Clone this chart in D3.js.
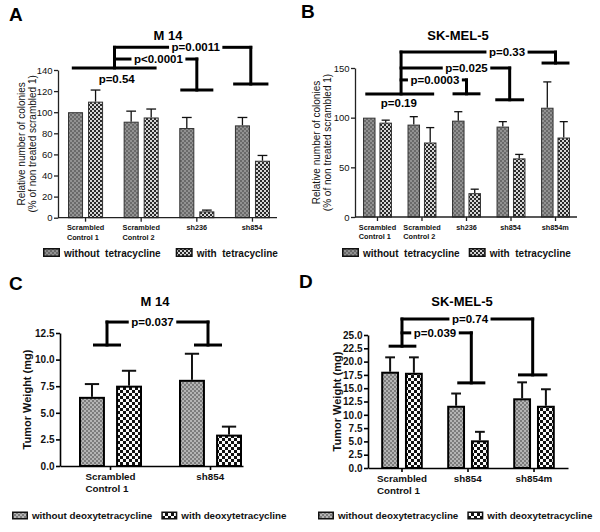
<!DOCTYPE html>
<html><head><meta charset="utf-8">
<script src="https://cdn.jsdelivr.net/npm/d3@7"></script>
<style>
body{margin:0;background:#fff}
svg{display:block}
text{font-family:"Liberation Sans",Arial,Helvetica,sans-serif}
</style>
</head><body>
<script>
// ---------------- DATA ----------------
const catsA = ["Scrambled\nControl 1","Scrambled\nControl 2","sh236","sh854"];
const withoutA = [100, 91, 85, 87.5];
const withoutErrA = [0, 10, 10, 7.5];
const withA = [110, 95, 6, 54];
const withErrA = [11, 8, 1.2, 5];
const ticksA = [0,20,40,60,80,100,120,140];

const catsB = ["Scrambled\nControl 1","Scrambled\nControl 2","sh236","sh854","sh854m"];
const withoutB = [100, 93, 97, 91, 110];
const withoutErrB = [0, 8, 9, 5, 26];
const withB = [95, 75, 24, 59, 80];
const withErrB = [2.5, 15, 4, 4, 16];
const ticksB = [0,50,100,150];

const catsC = ["Scrambled\nControl 1","sh854"];
const withoutC = [6.5, 8.1];
const withoutErrC = [1.2, 2.45];
const withC = [7.55, 2.95];
const withErrC = [1.4, 0.75];
const ticksC = [0,2.5,5,7.5,10,12.5];

const catsD = ["Scrambled\nControl 1","sh854","sh854m"];
const withoutD = [18.1, 11.7, 13.1];
const withoutErrD = [2.7, 2.3, 3.0];
const withD = [17.9, 5.2, 11.7];
const withErrD = [2.9, 1.6, 3.1];
const ticksD = [0,2.5,5,7.5,10,12.5,15,17.5,20,22.5,25];

const legendAB = ["without  tetracycline","with  tetracycline"];
const legendCD = ["without deoxytetracycline","with deoxytetracycline"];

// significance annotations (x in category-index units, y in data units)
const sigBaseA = {x1:-0.22, x2:1.25, y:142, stem:0.52, label:"p=0.54", lx:0.56, ly:127.5};
const sigRowsA = [
  {p:"p<0.0001", y:150.4, xEnd:2.0, yEnd:121, cap:0.27, tx:1.31},
  {p:"p=0.0011", y:161.5, xEnd:2.97, yEnd:126.7, cap:0.29, tx:1.98}
];
const sigBaseB = {x1:-0.24, x2:1.24, y:123.9, stem:0.53, label:"p=0.19", lx:0.48, ly:110.8};
const sigRowsB = [
  {p:"p=0.0003", y:138, xEnd:2.0, yEnd:124, cap:0.28, tx:1.29},
  {p:"p=0.025", y:150, xEnd:2.97, yEnd:118, cap:0.29, tx:2.0},
  {p:"p=0.33", y:166, xEnd:4.0, yEnd:155, cap:0.28, tx:2.91}
];
const sigBaseC = {x1:-0.16, x2:0.09, y:11.37, stem:-0.035};
const sigRowsC = [
  {p:"p=0.037", y:13.53, xEnd:0.975, yEnd:11.37, cap:0.125, tx:0.42}
];
const sigBaseD = {x1:-0.18, x2:0.195, y:22.9, stem:0.0};
const sigRowsD = [
  {p:"p=0.039", y:25.4, xEnd:1.05, yEnd:16.0, cap:0.19, tx:0.5},
  {p:"p=0.74", y:28.0, xEnd:1.98, yEnd:17.5, cap:0.2, tx:1.03}
];

// ---------------- SETUP ----------------
const svg = d3.select("body").append("svg").attr("width",600).attr("height",532);
svg.append("rect").attr("width",600).attr("height",532).attr("fill","#fff");
const defs = svg.append("defs");
function checker(id, cell, c1, c2){
  const p = defs.append("pattern").attr("id",id).attr("patternUnits","userSpaceOnUse")
    .attr("width",cell*2).attr("height",cell*2);
  p.append("rect").attr("width",cell*2).attr("height",cell*2).attr("fill",c2);
  p.append("rect").attr("width",cell).attr("height",cell).attr("fill",c1);
  p.append("rect").attr("x",cell).attr("y",cell).attr("width",cell).attr("height",cell).attr("fill",c1);
}
checker("woA",2,"#6a6a6a","#929292");
checker("wA",2,"#2a2a2a","#d6d6d6");
checker("woC",2,"#7c7c7c","#b4b4b4");
checker("wC",3,"#111","#fafafa");

const FONT = '"Liberation Sans",Arial,sans-serif';

function panel(cfg){
  const g = svg.append("g");
  const x = d3.scaleBand().domain(cfg.cats).range(cfg.xr)
    .paddingInner(cfg.pi).paddingOuter(cfg.po).align(cfg.align);
  const xs = d3.scaleBand().domain(["without","with"]).range([0,x.bandwidth()]).paddingInner(cfg.spi);
  const y = d3.scaleLinear().domain([0,cfg.ymax]).range(cfg.yr);
  const xi = i => x(cfg.cats[0]) + x.bandwidth()/2 + i*x.step();

  const series = [
    {k:"without", v:cfg.wo, e:cfg.woE, fill:cfg.fillWo},
    {k:"with", v:cfg.w, e:cfg.wE, fill:cfg.fillW}
  ];
  const rows = [];
  series.forEach(s => cfg.cats.forEach((c,i) => rows.push({c, k:s.k, v:s.v[i], e:s.e[i], fill:s.fill})));

  // error bars (upper only)
  const eb = rows.filter(d => d.e > 0);
  const bw = xs.bandwidth();
  g.selectAll("line.err").data(eb).join("line").attr("class","err")
    .attr("x1", d => x(d.c)+xs(d.k)+bw/2).attr("x2", d => x(d.c)+xs(d.k)+bw/2)
    .attr("y1", d => y(d.v)).attr("y2", d => y(d.v+d.e))
    .attr("stroke","#111").attr("stroke-width",cfg.errW);
  g.selectAll("line.cap").data(eb).join("line").attr("class","cap")
    .attr("x1", d => x(d.c)+xs(d.k)+bw/2 - bw*cfg.capF/2)
    .attr("x2", d => x(d.c)+xs(d.k)+bw/2 + bw*cfg.capF/2)
    .attr("y1", d => y(d.v+d.e)).attr("y2", d => y(d.v+d.e))
    .attr("stroke","#111").attr("stroke-width",cfg.errW);

  // bars
  const half = cfg.barSW/2;
  g.selectAll("rect.bar").data(rows).join("rect").attr("class","bar")
    .attr("x", d => x(d.c)+xs(d.k)+half).attr("width", bw-cfg.barSW)
    .attr("y", d => y(d.v)+half).attr("height", d => Math.max(0, y(0)-y(d.v)-half))
    .attr("fill", d => `url(#${d.fill})`)
    .attr("stroke", cfg.barStroke).attr("stroke-width", cfg.barSW);

  // y axis
  const ya = g.append("g").attr("transform",`translate(${cfg.xr[0]},0)`)
    .call(d3.axisLeft(y).tickValues(cfg.ticks).tickFormat(cfg.fmt).tickSize(4).tickPadding(1.5).tickSizeOuter(0));
  ya.selectAll("path,line").attr("stroke",cfg.axisColor).attr("stroke-width",cfg.axisW);
  ya.selectAll("text").attr("font-family",FONT).attr("font-size",cfg.tickFS)
    .attr("font-weight",cfg.tickFW).attr("fill","#111");

  // x axis
  const xa = g.append("g").attr("transform",`translate(0,${cfg.yr[0]})`)
    .call(d3.axisBottom(x).tickSize(4).tickSizeOuter(0).tickFormat(""));
  xa.selectAll("path,line").attr("stroke",cfg.axisColor).attr("stroke-width",cfg.axisW);
  if (cfg.xEnd) xa.select("path.domain").attr("d", `M${cfg.xr[0]},0H${cfg.xEnd}`);

  // category labels (block centred, lines left aligned)
  cfg.cats.forEach(c => {
    const lines = c.split("\n");
    const t = g.append("text").attr("font-family",FONT).attr("font-size",cfg.catFS)
      .attr("font-weight","bold").attr("fill","#111");
    lines.forEach((ln,j) => t.append("tspan").attr("x",0).attr("y", cfg.yr[0] + cfg.catDy + j*cfg.catLH).text(ln));
    const w = t.node().getBBox().width;
    t.attr("transform",`translate(${x(c)+x.bandwidth()/2 - w/2},0)`);
  });

  // y-axis title
  cfg.ytitle.forEach((tt,j) => {
    g.append("text").attr("transform",`translate(${cfg.ytX[j]},${(cfg.yr[0]+cfg.yr[1])/2}) rotate(-90)`)
      .attr("text-anchor","middle").attr("font-family",FONT).attr("font-size",cfg.ytFS)
      .attr("font-weight",cfg.ytFW).attr("fill","#111").text(tt);
  });

  // title and letter
  g.append("text").attr("x",cfg.tx).attr("y",cfg.ty).attr("text-anchor","middle")
    .attr("font-family",FONT).attr("font-size",13).attr("font-weight","bold").attr("fill","#000").text(cfg.title);
  g.append("text").attr("x",cfg.lx).attr("y",cfg.ly)
    .attr("font-family",FONT).attr("font-size",19).attr("font-weight","bold").attr("fill","#000").text(cfg.letter);

  // significance brackets
  const LW = 3;
  const seg = (x1,y1,x2,y2) => g.append("line").attr("x1",x1).attr("y1",y1).attr("x2",x2).attr("y2",y2)
    .attr("stroke","#000").attr("stroke-width",LW).attr("stroke-linecap","square");
  const b = cfg.base;
  const stemTop = d3.max(cfg.sig, r => r.y);
  seg(xi(b.x1), y(b.y), xi(b.x2), y(b.y));
  seg(xi(b.stem), y(b.y), xi(b.stem), y(stemTop));
  if (b.label) {
    g.append("text").attr("x",xi(b.lx)).attr("y",y(b.ly)).attr("text-anchor","middle")
      .attr("font-family",FONT).attr("font-size",cfg.pFS).attr("font-weight","bold").attr("fill","#000").text(b.label);
  }
  cfg.sig.forEach(r => {
    const t = g.append("text").attr("x",xi(r.tx)).attr("y",y(r.y)).attr("text-anchor","middle")
      .attr("dy","0.35em").attr("font-family",FONT).attr("font-size",cfg.pFS).attr("font-weight","bold")
      .attr("fill","#000").text(r.p);
    const w = t.node().getComputedTextLength();
    const pad = 4;
    const l1 = xi(r.tx) - w/2 - pad, r1 = xi(r.tx) + w/2 + pad;
    if (l1 > xi(b.stem) + 1) seg(xi(b.stem), y(r.y), l1, y(r.y));
    if (xi(r.xEnd) > r1 + 1) seg(r1, y(r.y), xi(r.xEnd), y(r.y));
    seg(xi(r.xEnd), y(r.y), xi(r.xEnd), y(r.yEnd));
    seg(xi(r.xEnd - r.cap), y(r.yEnd), xi(r.xEnd + r.cap), y(r.yEnd));
  });

  // legend
  let lxp = cfg.legX;
  cfg.legend.forEach((lab,j) => {
    g.append("rect").attr("x",lxp+0.75).attr("y",cfg.legY+0.75).attr("width",cfg.swW-1.5).attr("height",cfg.swH-1.5)
      .attr("fill",`url(#${j===0?cfg.fillWo:cfg.fillW})`).attr("stroke","#111").attr("stroke-width",1.5);
    const t = g.append("text").attr("x",lxp+cfg.swW+4).attr("y",cfg.legY+cfg.swH-0.5)
      .attr("font-family",FONT).attr("font-size",cfg.legFS).attr("font-weight","bold").attr("fill","#111")
      .style("white-space","pre").text(lab);
    lxp += cfg.swW + 4 + t.node().getComputedTextLength() + cfg.legGap;
  });
}

const commonAB = {fillWo:"woA", fillW:"wA", errW:1.3, capF:0.65, barSW:1, barStroke:"#333",
  axisColor:"#222", axisW:1.3, tickFS:9.5, tickFW:"normal", catFS:7.3, catDy:12.5, catLH:9.5,
  ytFS:10, ytFW:"normal", pFS:11.5, legFS:10, swW:17, swH:9, legY:248, legGap:15};
const commonCD = {fillWo:"woC", fillW:"wC", errW:2, capF:0.55, barSW:2, barStroke:"#000",
  axisColor:"#000", axisW:1.6, tickFS:10, tickFW:"bold", catFS:9.8, catDy:14, catLH:11.5,
  ytFS:11, ytFW:"bold", pFS:11.5, legFS:9.8, swW:16, swH:8, legY:511.5, legGap:9};

panel(Object.assign({}, commonAB, {
  letter:"A", lx:9, ly:21, title:"M 14", tx:168, ty:40,
  cats:catsA, wo:withoutA, woE:withoutErrA, w:withA, wE:withErrA, ticks:ticksA, ymax:140, fmt:d3.format("d"),
  xr:[58,280], xEnd:277, pi:0.37, po:0.18, align:0.5, spi:0.25, yr:[217.7,70],
  ytitle:["Relative number of colonies","(% of non treated scrambled 1)"], ytX:[24.5,35.5],
  base:sigBaseA, sig:sigRowsA, legend:legendAB, legX:43
}));
panel(Object.assign({}, commonAB, {
  letter:"B", lx:301, ly:18, title:"SK-MEL-5", tx:458, ty:40,
  cats:catsB, wo:withoutB, woE:withoutErrB, w:withB, wE:withErrB, ticks:ticksB, ymax:150, fmt:d3.format("d"),
  xr:[355,578], xEnd:577, pi:0.35, po:0.18, align:0.5, spi:0.24, yr:[217,68],
  ytitle:["Relative number of colonies","(% of non treated scrambled 1)"], ytX:[320,331],
  base:sigBaseB, sig:sigRowsB, legend:legendAB, legX:342, legGap:9
}));
panel(Object.assign({}, commonCD, {
  letter:"C", lx:9, ly:290, title:"M 14", tx:155, ty:306,
  cats:catsC, wo:withoutC, woE:withoutErrC, w:withC, wE:withErrC, ticks:ticksC, ymax:12.5, fmt:d3.format(".1f"),
  xr:[60,243], pi:0.37, po:0.1, align:0.95, spi:0.3, yr:[466,333],
  ytitle:["Tumor Weight (mg)"], ytX:[31],
  base:sigBaseC, sig:sigRowsC, legend:legendCD, legX:12
}));
panel(Object.assign({}, commonCD, {
  letter:"D", lx:299, ly:288, title:"SK-MEL-5", tx:462, ty:306,
  cats:catsD, wo:withoutD, woE:withoutErrD, w:withD, wE:withErrD, ticks:ticksD, ymax:25, fmt:d3.format(".1f"),
  xr:[368,568], pi:0.37, po:0.2, align:0.5, spi:0.25, yr:[468,335],
  ytitle:["Tumor Weight (mg)"], ytX:[341],
  base:sigBaseD, sig:sigRowsD, legend:legendCD, legX:318
}));
</script>
</body></html>
